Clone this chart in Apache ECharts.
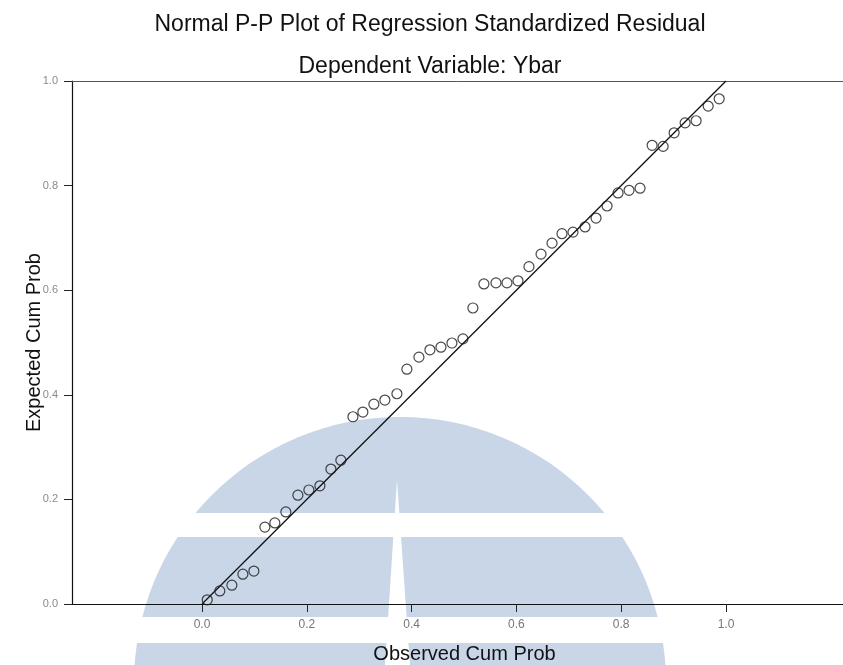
<!DOCTYPE html>
<html>
<head>
<meta charset="utf-8">
<script src="https://cdn.jsdelivr.net/npm/echarts@6/dist/echarts.min.js"></script>
<style>
html,body{margin:0;padding:0;background:#fff;}
#chart{width:843px;height:665px;}
</style>
</head>
<body>
<div id="chart"></div>
<script>
// Observed cumulative probability (x) and expected cumulative probability (y)
var observedCumProb = [0.010,0.034,0.057,0.078,0.099,0.120,0.139,0.160,0.183,0.204,0.225,0.246,0.265,0.288,0.307,0.328,0.349,0.372,0.391,0.414,0.435,0.456,0.477,0.498,0.517,0.538,0.561,0.582,0.603,0.624,0.647,0.668,0.687,0.708,0.731,0.752,0.773,0.794,0.815,0.836,0.859,0.880,0.901,0.922,0.943,0.966,0.987];
var expectedCumProb = [0.008,0.025,0.036,0.057,0.063,0.147,0.155,0.176,0.208,0.218,0.226,0.258,0.275,0.358,0.367,0.382,0.390,0.402,0.449,0.472,0.486,0.491,0.499,0.507,0.566,0.612,0.614,0.614,0.618,0.645,0.669,0.690,0.708,0.711,0.721,0.738,0.761,0.786,0.791,0.795,0.877,0.875,0.901,0.920,0.924,0.952,0.966];
var refLineX = [0, 1];
var refLineY = [0, 1];
var xTickValues = [0, 0.2, 0.4, 0.6, 0.8, 1.0];
var titleText = 'Normal P-P Plot of Regression Standardized Residual';
var subtitleText = 'Dependent Variable: Ybar';
var xName = 'Observed Cum Prob';
var yName = 'Expected Cum Prob';

var points = observedCumProb.map(function (v, i) { return [v, expectedCumProb[i]]; });
var refLine = refLineX.map(function (v, i) { return [v, refLineY[i]]; });

var chart = echarts.init(document.getElementById('chart'), null, {renderer: 'canvas'});
var FONT = '"Liberation Sans", Arial, sans-serif';
var wm = '#c8d6e8';

chart.setOption({
  animation: false,
  backgroundColor: '#ffffff',
  title: [
    {text: titleText, left: 425, top: 8, textAlign: 'center',
     textStyle: {fontFamily: FONT, fontSize: 23, fontWeight: 'normal', color: '#111'}},
    {text: subtitleText, left: 425, top: 50, textAlign: 'center',
     textStyle: {fontFamily: FONT, fontSize: 23, fontWeight: 'normal', color: '#111'}}
  ],
  graphic: [
    {type: 'circle', z: -10, silent: true, shape: {cx: 400, cy: 683, r: 266}, style: {fill: wm}},
    {type: 'rect', z: -9, silent: true, shape: {x: 100, y: 513, width: 620, height: 24}, style: {fill: '#fff'}},
    {type: 'rect', z: -9, silent: true, shape: {x: 100, y: 617, width: 620, height: 26}, style: {fill: '#fff'}},
    {type: 'polygon', z: -9, silent: true, shape: {points: [[397, 480], [410, 665], [385, 665]]}, style: {fill: '#fff'}}
  ],
  grid: {left: 72, right: 0, top: 81, bottom: 61, containLabel: false, outerBoundsMode: 'none'},
  xAxis: [
    {
      type: 'value', position: 'bottom', min: -0.2481, max: 1.2233,
      axisLine: {show: true, onZero: false, lineStyle: {color: '#111', width: 1.2}},
      axisTick: {show: true, customValues: xTickValues, length: 8, lineStyle: {color: '#222'}},
      axisLabel: {show: true, customValues: xTickValues, margin: 15, color: '#777', fontSize: 12, fontFamily: FONT,
        formatter: function (v) { return v.toFixed(1); }},
      splitLine: {show: false},
      name: xName, nameLocation: 'middle', nameGap: 40, nameMoveOverlap: false,
      nameTextStyle: {fontFamily: FONT, fontSize: 20, color: '#111', padding: [0, 0, 0, 14]}
    },
    {
      type: 'value', position: 'top', min: -0.2481, max: 1.2233,
      axisLine: {show: true, onZero: false, lineStyle: {color: '#555', width: 1}},
      axisTick: {show: false}, axisLabel: {show: false}, splitLine: {show: false}
    }
  ],
  yAxis: {
    type: 'value', min: 0, max: 1, interval: 0.2,
    axisLine: {show: true, onZero: false, lineStyle: {color: '#111', width: 1.2}},
    axisTick: {show: true, length: 8, lineStyle: {color: '#222'}},
    axisLabel: {margin: 14, color: '#8a8a8a', fontSize: 11, fontFamily: FONT,
      formatter: function (v) { return v.toFixed(1); }},
    splitLine: {show: false},
    name: yName, nameLocation: 'middle', nameGap: 28, nameRotate: 90, nameMoveOverlap: false,
    nameTextStyle: {fontFamily: FONT, fontSize: 20, color: '#111'}
  },
  series: [
    {
      type: 'line', data: refLine, xAxisIndex: 0, symbol: 'none', z: 3,
      lineStyle: {color: '#111', width: 1.3}
    },
    {
      type: 'scatter', data: points, xAxisIndex: 0, symbol: 'circle', symbolSize: 10, z: 4,
      itemStyle: {color: 'rgba(0,0,0,0)', borderColor: '#1a1a1a', borderWidth: 1.2}
    }
  ]
});
</script>
</body>
</html>
